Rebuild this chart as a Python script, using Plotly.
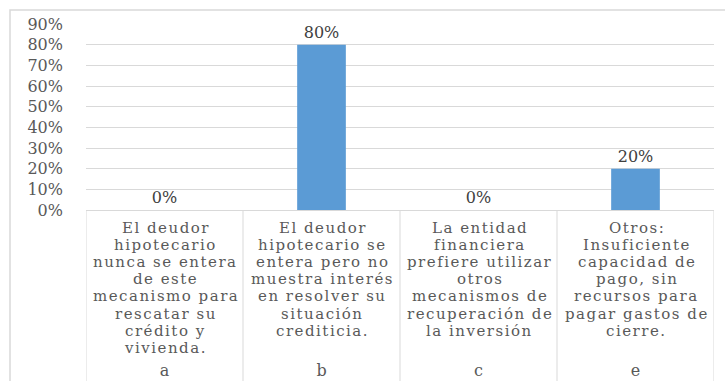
import plotly.graph_objects as go

# Survey answers: share of respondents per reason
letters = ["a", "b", "c", "e"]
shares = [0.0, 0.80, 0.0, 0.20]
value_labels = ["0%", "80%", "0%", "20%"]
descriptions = [
    ["El deudor", "hipotecario", "nunca se entera", "de este",
     "mecanismo para", "rescatar su", "crédito y", "vivienda."],
    ["El deudor", "hipotecario se", "entera pero no", "muestra interés",
     "en resolver su", "situación", "crediticia."],
    ["La entidad", "financiera", "prefiere utilizar", "otros",
     "mecanismos de", "recuperación de", "la inversión"],
    ["Otros:", "Insuficiente", "capacidad de", "pago, sin",
     "recursos para", "pagar gastos de", "cierre."],
]
y_ticks = [i / 10 for i in range(10)]

W, H = 725, 381
ML, MR, MT, MB = 86, 11, 24, 171
plot_h = H - MT - MB
plot_w = W - ML - MR

FONT = "DejaVu Serif"
GRID = "#d9d9d9"
TEXT = "#595959"


def py_to_paper(py):
    return (H - MB - py) / plot_h


def px_to_paper(px):
    return (px - ML) / plot_w


fig = go.Figure(
    go.Bar(
        x=letters,
        y=shares,
        width=0.31,
        marker=dict(color="#5b9bd5", line=dict(width=0)),
        text=value_labels,
        textposition="outside",
        textfont=dict(family=FONT, size=16, color="#404040"),
        cliponaxis=False,
    )
)

# multi-line category descriptions under the axis, one text per line
annotations = []
line_gap = 17.1
first_line = 228
for i, lines in enumerate(descriptions):
    for j, line in enumerate(lines):
        annotations.append(dict(
            x=letters[i], xref="x",
            y=py_to_paper(first_line + j * line_gap), yref="paper",
            text=f'<span style="letter-spacing:1.5px">{line}</span>',
            showarrow=False,
            xanchor="center", yanchor="middle", xshift=1,
            font=dict(family=FONT, size=15, color=TEXT),
        ))

# vertical dividers of the category table
shapes = []
for k in range(len(letters) + 1):
    shapes.append(dict(
        type="line", xref="x", yref="paper",
        x0=k - 0.5, x1=k - 0.5, y0=0, y1=py_to_paper(H + 5),
        line=dict(color=GRID, width=1),
    ))

# outer chart frame
shapes.append(dict(
    type="rect", xref="paper", yref="paper",
    x0=px_to_paper(10), x1=px_to_paper(W + 20),
    y0=py_to_paper(H + 20), y1=py_to_paper(10),
    line=dict(color=GRID, width=1.5), fillcolor="rgba(0,0,0,0)", layer="below",
))

fig.update_layout(
    width=W, height=H,
    margin=dict(l=ML, r=MR, t=MT, b=MB, autoexpand=False),
    paper_bgcolor="white", plot_bgcolor="white",
    showlegend=False,
    annotations=annotations,
    shapes=shapes,
    xaxis=dict(
        type="category",
        range=[-0.5, len(letters) - 0.5],
        automargin=False,
        showgrid=False, zeroline=False,
        showline=True, linecolor=GRID, linewidth=1,
        ticks="", ticklabelstandoff=146,
        tickfont=dict(family=FONT, size=16, color=TEXT),
    ),
    yaxis=dict(
        range=[0, 0.9],
        tickvals=y_ticks,
        tickformat=".0%",
        automargin=False,
        showgrid=True, gridcolor=GRID, gridwidth=1,
        zeroline=False, showline=False,
        ticks="", ticklabelstandoff=22,
        tickfont=dict(family=FONT, size=16, color=TEXT),
    ),
)

fig.write_html("out.html")
